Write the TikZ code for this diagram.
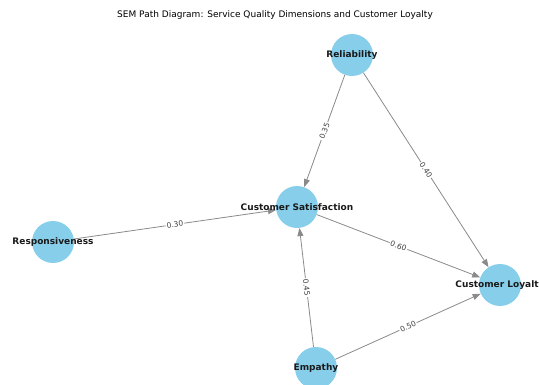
\documentclass[tikz,border=0pt]{standalone}
\usepackage{fontspec}
\setmainfont{DejaVu Sans}
\usetikzlibrary{arrows.meta}
\definecolor{ceu}{HTML}{87CEEB}
\definecolor{aresta}{HTML}{8A8A8A}
\tikzstyle{construto} = [circle, fill=ceu, minimum size=42pt, inner sep=0pt]
\tikzstyle{nome} = [font=\fontsize{9}{10}\selectfont\bfseries, text=black!90, inner sep=0pt]
\tikzstyle{arrow} = [line width=0.8pt, draw=aresta, -{Stealth[length=8pt,width=6pt,inset=0pt,fill=aresta]}]
\tikzstyle{peso} = [midway, sloped, fill=white, inner sep=1pt, font=\fontsize{7.5}{8}\selectfont, text=black!75]

\begin{document}
\begin{tikzpicture}[x=1pt, y=-1pt]
        \useasboundingbox (0,0) rectangle (539,385);

        % Título
        \node (titulo) at (275,15) {\fontsize{9}{10}\selectfont SEM Path Diagram: Service Quality Dimensions and Customer Loyalty};

        % Nós (construtos)
        \node (rel) [construto] at (352,55) {};
        \node (sat) [construto] at (297,207) {};
        \node (resp) [construto] at (53,242) {};
        \node (loy) [construto] at (500,285) {};
        \node (emp) [construto] at (316,368) {};

        % Conexões entre os nós (setas com os coeficientes)
        \draw [arrow] (rel) -- node[peso] {0.35} (sat);
        \draw [arrow] (rel) -- node[peso] {0.40} (loy);
        \draw [arrow] (resp) -- node[peso] {0.30} (sat);
        \draw [arrow] (sat) -- node[peso] {0.60} (loy);
        \draw [arrow] (emp) -- node[peso] {0.45} (sat);
        \draw [arrow] (emp) -- node[peso] {0.50} (loy);

        % Rótulos dos nós
        \node (txtrel) [nome] at (rel) {Reliability};
        \node (txtsat) [nome] at (sat) {Customer Satisfaction};
        \node (txtresp) [nome] at (resp) {Responsiveness};
        \node (txtloy) [nome] at (loy) {Customer Loyalty};
        \node (txtemp) [nome] at (emp) {Empathy};

    \end{tikzpicture}
\end{document}
